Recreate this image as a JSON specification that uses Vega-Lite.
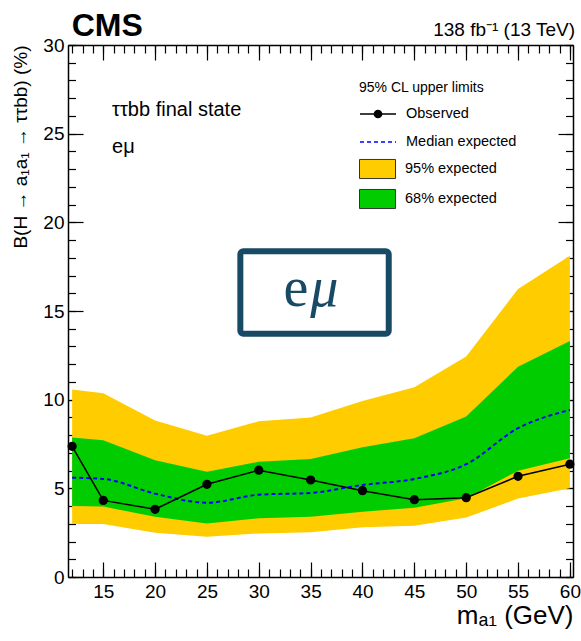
{
  "$schema": "https://vega.github.io/schema/vega-lite/v6.json",
  "width": 505,
  "height": 532,
  "autosize": {"type": "none"},
  "padding": {"left": 68, "top": 45, "right": 8, "bottom": 64},
  "config": {
    "font": "Liberation Sans",
    "view": {"stroke": null},
    "axis": {
      "grid": false,
      "domainColor": "black",
      "domainWidth": 1.5,
      "tickColor": "black",
      "tickWidth": 1.2,
      "labelFontSize": 19,
      "labelColor": "black",
      "labelFlush": false,
      "labelOverlap": false,
      "labelBound": false,
      "titleFontWeight": "normal",
      "titleColor": "black"
    },
    "legend": {
      "labelFontSize": 14.5,
      "labelColor": "black",
      "padding": 0
    }
  },
  "data": {
    "values": [
      {"mass": 12, "observed": 7.37, "lo95": 2.99, "lo68": 4.00, "median": 5.60, "hi68": 7.86, "hi95": 10.58},
      {"mass": 15, "observed": 4.32, "lo95": 2.99, "lo68": 3.97, "median": 5.53, "hi68": 7.71, "hi95": 10.36},
      {"mass": 20, "observed": 3.82, "lo95": 2.50, "lo68": 3.40, "median": 4.70, "hi68": 6.58, "hi95": 8.82},
      {"mass": 25, "observed": 5.23, "lo95": 2.27, "lo68": 3.02, "median": 4.19, "hi68": 5.94, "hi95": 7.97},
      {"mass": 30, "observed": 6.02, "lo95": 2.46, "lo68": 3.31, "median": 4.64, "hi68": 6.50, "hi95": 8.78},
      {"mass": 35, "observed": 5.47, "lo95": 2.53, "lo68": 3.40, "median": 4.74, "hi68": 6.65, "hi95": 8.99},
      {"mass": 40, "observed": 4.87, "lo95": 2.80, "lo68": 3.68, "median": 5.19, "hi68": 7.31, "hi95": 9.93},
      {"mass": 45, "observed": 4.36, "lo95": 2.89, "lo68": 3.91, "median": 5.53, "hi68": 7.82, "hi95": 10.70},
      {"mass": 50, "observed": 4.47, "lo95": 3.35, "lo68": 4.44, "median": 6.36, "hi68": 9.05, "hi95": 12.43},
      {"mass": 55, "observed": 5.68, "lo95": 4.42, "lo68": 5.99, "median": 8.39, "hi68": 11.86, "hi95": 16.24},
      {"mass": 60, "observed": 6.36, "lo95": 5.00, "lo68": 6.69, "median": 9.42, "hi68": 13.31, "hi95": 18.12}
    ]
  },
  "resolve": {"axis": {"x": "independent", "y": "independent"}},
  "layer": [
    {
      "mark": {"type": "area", "interpolate": "linear"},
      "encoding": {
        "x": {
          "field": "mass",
          "type": "quantitative",
          "scale": {"domain": [11.6, 60.3], "nice": false, "zero": false},
          "axis": {
            "orient": "bottom",
            "values": [15, 20, 25, 30, 35, 40, 45, 50, 55, 60],
            "tickSize": -15,
            "labelPadding": 20,
            "title": "mₐ₁ (GeV)",
            "titleAnchor": "end",
            "titleFontSize": 26,
            "titlePadding": 1
          }
        },
        "y": {
          "field": "lo95",
          "type": "quantitative",
          "scale": {"domain": [0, 30], "nice": false, "zero": false},
          "axis": {
            "orient": "left",
            "values": [0, 5, 10, 15, 20, 25, 30],
            "tickSize": -15,
            "labelPadding": 19,
            "title": "B(H → a₁a₁ → ττbb) (%)",
            "titleAnchor": "end",
            "titleFontSize": 19,
            "titlePadding": 12
          }
        },
        "y2": {"field": "hi95"},
        "fill": {
          "datum": "95% expected",
          "type": "nominal",
          "scale": {"domain": ["95% expected", "68% expected"], "range": ["#ffcc00", "#00cc00"]},
          "legend": {
            "orient": "none",
            "legendX": 291,
            "legendY": 110,
            "title": null,
            "symbolType": "M-1,-0.53H1V0.53H-1Z",
            "symbolSize": 1296,
            "symbolStrokeColor": "#333333",
            "symbolStrokeWidth": 1,
            "clipHeight": 28,
            "labelOffset": 9
          }
        }
      }
    },
    {
      "mark": {"type": "area", "interpolate": "linear"},
      "encoding": {
        "x": {
          "field": "mass",
          "type": "quantitative",
          "axis": {
            "orient": "bottom",
            "values": [12, 13, 14, 15, 16, 17, 18, 19, 20, 21, 22, 23, 24, 25, 26, 27, 28, 29, 30, 31, 32, 33, 34, 35, 36, 37, 38, 39, 40, 41, 42, 43, 44, 45, 46, 47, 48, 49, 50, 51, 52, 53, 54, 55, 56, 57, 58, 59, 60],
            "tickSize": -8,
            "labels": false,
            "domain": false,
            "title": null
          }
        },
        "y": {
          "field": "lo68",
          "type": "quantitative",
          "axis": {
            "orient": "left",
            "values": [0, 1, 2, 3, 4, 5, 6, 7, 8, 9, 10, 11, 12, 13, 14, 15, 16, 17, 18, 19, 20, 21, 22, 23, 24, 25, 26, 27, 28, 29, 30],
            "tickSize": -7.5,
            "labels": false,
            "domain": false,
            "title": null
          }
        },
        "y2": {"field": "hi68"},
        "fill": {"datum": "68% expected", "type": "nominal"}
      }
    },
    {
      "mark": {"type": "line", "interpolate": "monotone", "color": "#0000ff", "strokeWidth": 2},
      "encoding": {
        "x": {
          "field": "mass",
          "type": "quantitative",
          "axis": {
            "orient": "top",
            "values": [15, 20, 25, 30, 35, 40, 45, 50, 55, 60],
            "tickSize": -15,
            "labels": false,
            "title": null
          }
        },
        "y": {
          "field": "median",
          "type": "quantitative",
          "axis": {
            "orient": "right",
            "values": [0, 5, 10, 15, 20, 25, 30],
            "tickSize": -15,
            "labels": false,
            "title": null
          }
        },
        "strokeDash": {
          "datum": "Median expected",
          "type": "nominal",
          "scale": {"domain": ["Median expected"], "range": [[4, 3]]},
          "legend": {
            "orient": "none",
            "legendX": 291,
            "legendY": 83,
            "title": null,
            "symbolType": "stroke",
            "symbolSize": 1296,
            "symbolStrokeWidth": 1.5,
            "clipHeight": 28,
            "labelOffset": 9
          }
        }
      }
    },
    {
      "mark": {"type": "line", "color": "black", "strokeWidth": 1.5},
      "encoding": {
        "x": {
          "field": "mass",
          "type": "quantitative",
          "axis": {
            "orient": "top",
            "values": [12, 13, 14, 15, 16, 17, 18, 19, 20, 21, 22, 23, 24, 25, 26, 27, 28, 29, 30, 31, 32, 33, 34, 35, 36, 37, 38, 39, 40, 41, 42, 43, 44, 45, 46, 47, 48, 49, 50, 51, 52, 53, 54, 55, 56, 57, 58, 59, 60],
            "tickSize": -8,
            "labels": false,
            "domain": false,
            "title": null
          }
        },
        "y": {
          "field": "observed",
          "type": "quantitative",
          "axis": {
            "orient": "right",
            "values": [0, 1, 2, 3, 4, 5, 6, 7, 8, 9, 10, 11, 12, 13, 14, 15, 16, 17, 18, 19, 20, 21, 22, 23, 24, 25, 26, 27, 28, 29, 30],
            "tickSize": -7.5,
            "labels": false,
            "domain": false,
            "title": null
          }
        }
      }
    },
    {
      "mark": {"type": "point", "filled": true, "fill": "black", "stroke": "black", "strokeWidth": 1.5, "size": 60, "opacity": 1},
      "encoding": {
        "x": {"field": "mass", "type": "quantitative", "axis": null},
        "y": {"field": "observed", "type": "quantitative", "axis": null},
        "opacity": {
          "datum": "Observed",
          "type": "nominal",
          "scale": {"domain": ["Observed"], "range": [1]},
          "legend": {
            "orient": "none",
            "legendX": 291,
            "legendY": 36,
            "title": "95% CL upper limits",
            "titleFontSize": 14,
            "titleFontWeight": "normal",
            "titleColor": "black",
            "titlePadding": 5,
            "symbolType": "M-1,0H1M-0.2,0A0.2,0.2,0,1,0,0.2,0A0.2,0.2,0,1,0,-0.2,0Z",
            "symbolSize": 1296,
            "clipHeight": 28,
            "labelOffset": 9
          }
        }
      }
    },
    {
      "data": {"values": [{}]},
      "mark": {"type": "text", "text": "CMS", "align": "left", "baseline": "alphabetic", "fontSize": 32, "fontWeight": "bold", "color": "black", "dy": -9},
      "encoding": {
        "x": {"datum": 11.95, "type": "quantitative", "axis": null},
        "y": {"datum": 30, "type": "quantitative", "axis": null}
      }
    },
    {
      "data": {"values": [{}]},
      "mark": {"type": "text", "text": "138 fb⁻¹ (13 TeV)", "align": "right", "baseline": "alphabetic", "fontSize": 19, "color": "black", "dy": -9},
      "encoding": {
        "x": {"datum": 60.5, "type": "quantitative", "axis": null},
        "y": {"datum": 30, "type": "quantitative", "axis": null}
      }
    },
    {
      "data": {"values": [{}]},
      "mark": {"type": "text", "text": "ττbb final state", "align": "left", "baseline": "middle", "fontSize": 20, "color": "black"},
      "encoding": {
        "x": {"datum": 15.85, "type": "quantitative", "axis": null},
        "y": {"datum": 26.34, "type": "quantitative", "axis": null}
      }
    },
    {
      "data": {"values": [{}]},
      "mark": {"type": "text", "text": "eμ", "align": "left", "baseline": "middle", "fontSize": 20, "color": "black"},
      "encoding": {
        "x": {"datum": 15.85, "type": "quantitative", "axis": null},
        "y": {"datum": 24.25, "type": "quantitative", "axis": null}
      }
    },
    {
      "data": {"values": [{}]},
      "mark": {"type": "rect", "filled": false, "stroke": "#184a66", "strokeWidth": 6, "cornerRadius": 3},
      "encoding": {
        "x": {"datum": 28.22, "type": "quantitative", "axis": null},
        "x2": {"datum": 42.53},
        "y": {"datum": 13.72, "type": "quantitative", "axis": null},
        "y2": {"datum": 18.37}
      }
    },
    {
      "data": {"values": [{}]},
      "mark": {"type": "text", "text": "e", "font": "Liberation Serif", "align": "right", "baseline": "alphabetic", "fontSize": 56, "color": "#184a66", "dx": -6, "dy": 14},
      "encoding": {
        "x": {"datum": 35.35, "type": "quantitative", "axis": null},
        "y": {"datum": 16.05, "type": "quantitative", "axis": null}
      }
    },
    {
      "data": {"values": [{}]},
      "mark": {"type": "text", "text": "μ", "font": "Liberation Serif", "fontStyle": "italic", "align": "left", "baseline": "alphabetic", "fontSize": 56, "color": "#184a66", "dx": -4, "dy": 14},
      "encoding": {
        "x": {"datum": 35.35, "type": "quantitative", "axis": null},
        "y": {"datum": 16.05, "type": "quantitative", "axis": null}
      }
    }
  ]
}
